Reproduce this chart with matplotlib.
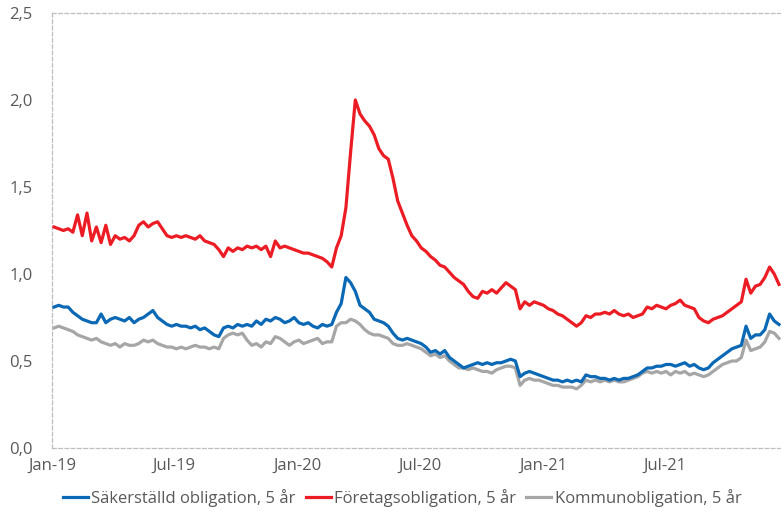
"""Räntor på svenska obligationer, 5 år"""
import pandas as pd
import matplotlib
matplotlib.use('Agg')
import matplotlib.pyplot as plt
import matplotlib.dates as mdates
from matplotlib.ticker import FuncFormatter, MultipleLocator

dates = pd.date_range('2019-01-04', '2021-12-17', freq='W-FRI')

foretag = [
    1.27, 1.26, 1.25, 1.26, 1.24, 1.34, 1.22, 1.35, 1.19, 1.27,
    1.18, 1.28, 1.17, 1.22, 1.20, 1.21, 1.19, 1.22, 1.28, 1.30,
    1.27, 1.29, 1.30, 1.26, 1.22, 1.21, 1.22, 1.21, 1.22, 1.21,
    1.20, 1.22, 1.19, 1.18, 1.17, 1.14, 1.10, 1.15, 1.13, 1.15,
    1.14, 1.16, 1.15, 1.16, 1.14, 1.16, 1.10, 1.19, 1.15, 1.16,
    1.15, 1.14, 1.13, 1.12, 1.12, 1.11, 1.10, 1.09, 1.07, 1.04,
    1.15, 1.22, 1.38, 1.70, 2.00, 1.92, 1.88, 1.85, 1.80, 1.72,
    1.68, 1.66, 1.55, 1.42, 1.35, 1.28, 1.22, 1.19, 1.15, 1.13,
    1.10, 1.08, 1.05, 1.04, 1.01, 0.98, 0.96, 0.94, 0.90, 0.87,
    0.86, 0.90, 0.89, 0.91, 0.89, 0.92, 0.95, 0.93, 0.91, 0.80,
    0.84, 0.82, 0.84, 0.83, 0.82, 0.80, 0.79, 0.77, 0.76, 0.74,
    0.72, 0.70, 0.72, 0.76, 0.75, 0.77, 0.77, 0.78, 0.77, 0.79,
    0.77, 0.76, 0.77, 0.75, 0.76, 0.77, 0.81, 0.80, 0.82, 0.81,
    0.80, 0.82, 0.83, 0.85, 0.82, 0.81, 0.80, 0.75, 0.73, 0.72,
    0.74, 0.75, 0.76, 0.78, 0.80, 0.82, 0.84, 0.97, 0.89, 0.93,
    0.94, 0.98, 1.04, 1.00, 0.94,
]

sakerstalld = [
    0.81, 0.82, 0.81, 0.81, 0.78, 0.76, 0.74, 0.73, 0.72, 0.72,
    0.77, 0.72, 0.74, 0.75, 0.74, 0.73, 0.75, 0.72, 0.74, 0.75,
    0.77, 0.79, 0.75, 0.73, 0.71, 0.70, 0.71, 0.70, 0.70, 0.69,
    0.70, 0.68, 0.69, 0.67, 0.65, 0.64, 0.69, 0.70, 0.69, 0.71,
    0.70, 0.71, 0.70, 0.73, 0.71, 0.74, 0.73, 0.75, 0.74, 0.72,
    0.73, 0.75, 0.72, 0.71, 0.72, 0.70, 0.69, 0.71, 0.70, 0.71,
    0.78, 0.83, 0.98, 0.95, 0.90, 0.82, 0.80, 0.78, 0.74, 0.73,
    0.72, 0.70, 0.66, 0.63, 0.62, 0.63, 0.62, 0.61, 0.60, 0.58,
    0.55, 0.56, 0.54, 0.56, 0.52, 0.50, 0.48, 0.46, 0.47, 0.48,
    0.49, 0.48, 0.49, 0.48, 0.49, 0.49, 0.50, 0.51, 0.50, 0.41,
    0.43, 0.44, 0.43, 0.42, 0.41, 0.40, 0.39, 0.39, 0.38, 0.39,
    0.38, 0.39, 0.38, 0.42, 0.41, 0.41, 0.40, 0.40, 0.39, 0.40,
    0.39, 0.40, 0.40, 0.41, 0.42, 0.44, 0.46, 0.46, 0.47, 0.47,
    0.48, 0.48, 0.47, 0.48, 0.49, 0.47, 0.48, 0.46, 0.45, 0.46,
    0.49, 0.51, 0.53, 0.55, 0.57, 0.58, 0.59, 0.70, 0.63, 0.65,
    0.65, 0.68, 0.77, 0.73, 0.71,
]

kommun = [
    0.69, 0.70, 0.69, 0.68, 0.67, 0.65, 0.64, 0.63, 0.62, 0.63,
    0.61, 0.60, 0.59, 0.60, 0.58, 0.60, 0.59, 0.59, 0.60, 0.62,
    0.61, 0.62, 0.60, 0.59, 0.58, 0.58, 0.57, 0.58, 0.57, 0.58,
    0.59, 0.58, 0.58, 0.57, 0.58, 0.57, 0.63, 0.65, 0.66, 0.65,
    0.66, 0.62, 0.59, 0.60, 0.58, 0.61, 0.60, 0.64, 0.63, 0.61,
    0.59, 0.61, 0.62, 0.60, 0.61, 0.62, 0.63, 0.60, 0.61, 0.61,
    0.70, 0.72, 0.72, 0.74, 0.73, 0.71, 0.68, 0.66, 0.65, 0.65,
    0.64, 0.63, 0.60, 0.59, 0.59, 0.60, 0.59, 0.58, 0.57, 0.55,
    0.53, 0.54, 0.52, 0.53, 0.50, 0.48, 0.46, 0.46, 0.45, 0.46,
    0.45, 0.44, 0.44, 0.43, 0.45, 0.46, 0.47, 0.47, 0.46, 0.36,
    0.39, 0.40, 0.39, 0.39, 0.38, 0.37, 0.36, 0.36, 0.35, 0.35,
    0.35, 0.34, 0.36, 0.39, 0.38, 0.39, 0.38, 0.39, 0.38, 0.39,
    0.38, 0.38, 0.39, 0.40, 0.41, 0.43, 0.44, 0.43, 0.44, 0.43,
    0.44, 0.42, 0.44, 0.43, 0.44, 0.42, 0.43, 0.42, 0.41, 0.42,
    0.44, 0.46, 0.48, 0.49, 0.50, 0.50, 0.52, 0.62, 0.56, 0.57,
    0.58, 0.61, 0.67, 0.66, 0.63,
]

labels = ['Säkerställd obligation, 5 år', 'Företagsobligation, 5 år',
          'Kommunobligation, 5 år']
colors = ['#0a68b4', '#ec1c24', '#a6a6a6']

plt.rcParams['font.family'] = ['Open Sans', 'DejaVu Sans']
text_color = '#595959'
border = '#bfbfbf'

fig = plt.figure(figsize=(7.81, 5.11), dpi=100)
ax = fig.add_axes([0.0666, 0.1233, 0.9334, 0.8513])

# draw grey first so blue/red sit on top
ax.plot(dates, kommun, color=colors[2], lw=2.3, label=labels[2], zorder=2)
ax.plot(dates, sakerstalld, color=colors[0], lw=2.3, label=labels[0], zorder=3)
ax.plot(dates, foretag, color=colors[1], lw=2.3, label=labels[1], zorder=4)

ax.set_ylim(0, 2.5)
ax.set_xlim(pd.Timestamp('2019-01-01'), pd.Timestamp('2021-12-20'))
ax.yaxis.set_major_locator(MultipleLocator(0.5))
ax.yaxis.set_major_formatter(FuncFormatter(lambda v, _: '{:.1f}'.format(v).replace('.', ',')))
ax.xaxis.set_major_locator(mdates.MonthLocator(bymonth=[1, 7]))
ax.xaxis.set_major_formatter(mdates.DateFormatter('%b-%y'))

ax.tick_params(axis='both', length=0, labelsize=12, colors=text_color)
ax.tick_params(axis='x', pad=7)
ax.tick_params(axis='y', pad=14)

for side in ('top', 'bottom', 'left'):
    ax.spines[side].set_color(border)
    ax.spines[side].set_linestyle((0, (3, 2)))
    ax.spines[side].set_linewidth(0.9)
ax.spines['right'].set_visible(False)

handles, names = ax.get_legend_handles_labels()
order = [names.index(n) for n in labels]
fig.legend([handles[i] for i in order], [names[i] for i in order],
           loc='center', bbox_to_anchor=(0.515, 0.026), ncol=3, frameon=False,
           fontsize=12, handlelength=1.5, handletextpad=0.2, columnspacing=0.6,
           labelcolor=text_color)

fig.savefig('out.png', dpi=100)
